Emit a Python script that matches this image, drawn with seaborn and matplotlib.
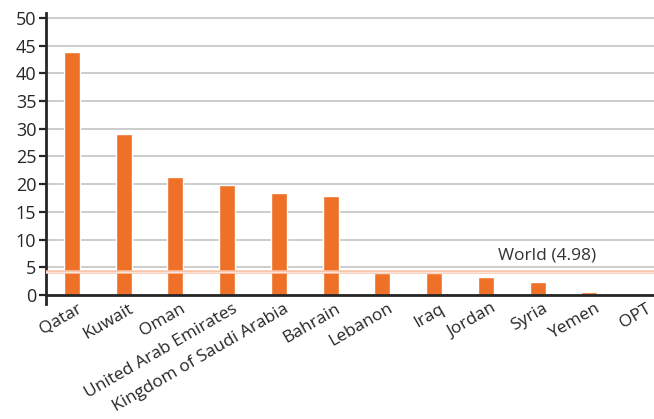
import matplotlib
matplotlib.use("Agg")
import matplotlib.pyplot as plt
import matplotlib.transforms as mtransforms
import seaborn as sns
import pandas as pd

countries = ["Qatar", "Kuwait", "Oman", "United Arab Emirates", "Kingdom of Saudi Arabia",
             "Bahrain", "Lebanon", "Iraq", "Jordan", "Syria", "Yemen", "OPT"]
values = [43.8, 29.0, 21.3, 19.9, 18.5, 17.9, 3.9, 3.9, 3.2, 2.3, 0.5, 0.1]
world_label = "World (4.98)"
world_line = 4.2

df = pd.DataFrame({"country": countries, "value": values})

sns.set_theme(style="white")
plt.rcParams["font.family"] = ["Open Sans", "DejaVu Sans"]

fig = plt.figure(figsize=(6.54, 4.19), dpi=100)
ax = fig.add_axes([46/654, 0.2745, 608/654, 0.6935])

ax.set_axisbelow(True)
ax.yaxis.grid(True, color="#c8c8c8", linewidth=1.3)
sns.barplot(data=df, x="country", y="value", color="#ee7127", saturation=1,
            width=0.31, ax=ax)
ax.axhline(world_line, color="#f8c6ad", linewidth=2.6, zorder=3)
ax.axhline(world_line, color="#fde8dd", linewidth=0.7, zorder=3)
ax.text(9.18, 7.2, world_label, ha="center", va="center", fontsize=12.5, color="#333333")

ax.set_xlim(-0.5, 11.25)
ax.set_ylim(-1.6, 50.8)
ax.set_yticks(range(0, 51, 5))
ax.set_xlabel("")
ax.set_ylabel("")

for s in ["top", "right"]:
    ax.spines[s].set_visible(False)
ax.spines["bottom"].set_position(("data", 0))
ax.spines["bottom"].set_color("#262626")
ax.spines["bottom"].set_linewidth(2)
ax.spines["left"].set_color("#262626")
ax.spines["left"].set_linewidth(2)

ax.tick_params(axis="y", direction="out", length=5, width=1.6, color="#262626",
               labelsize=13, pad=2, left=True)
ax.tick_params(axis="x", length=0, labelsize=12.5, pad=4)
shift = mtransforms.ScaledTranslation(5/100, 0, fig.dpi_scale_trans)
for lab in ax.get_xticklabels():
    lab.set_rotation(30)
    lab.set_ha("right")
    lab.set_va("top")
    lab.set_rotation_mode("anchor")
    lab.set_color("#262626")
    lab.set_transform(lab.get_transform() + shift)
plt.setp(ax.get_yticklabels(), color="#262626")

fig.savefig("out.png", dpi=100)
